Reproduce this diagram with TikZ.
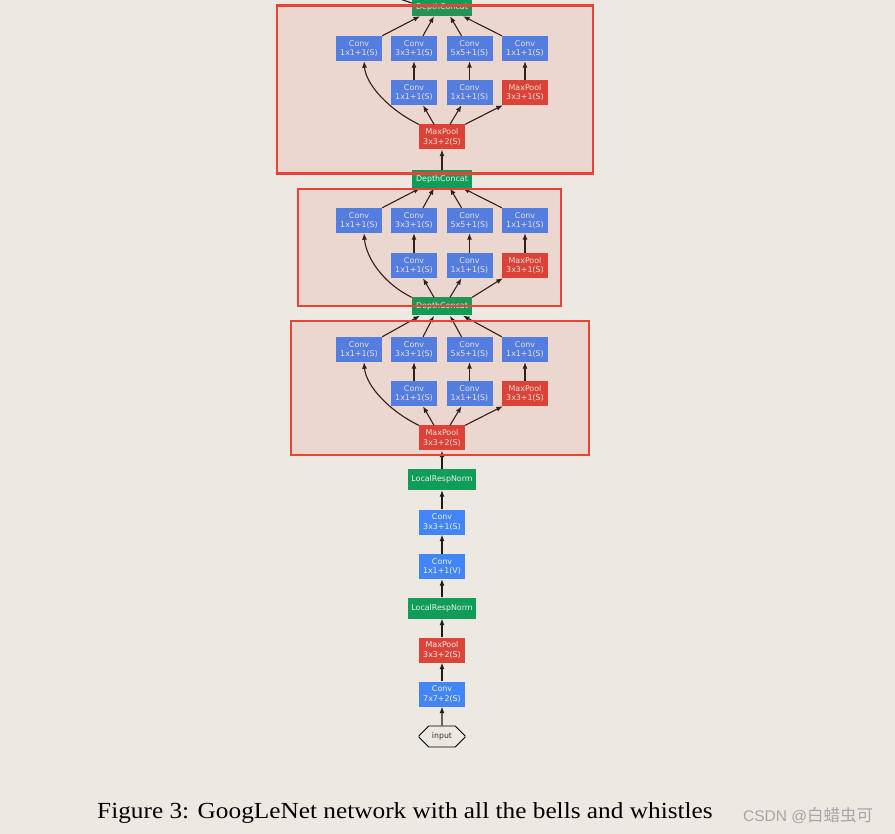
\documentclass[tikz,border=0pt]{standalone}
\usepackage{fontspec}
\setmainfont{Liberation Serif}
\newfontfamily\labelfont{DejaVu Sans}
\newfontfamily\markfont{Liberation Sans}
\newfontfamily\cjkfont{Noto Sans CJK SC}
\usetikzlibrary{arrows.meta,calc,shapes.misc}

\definecolor{pagebg}{HTML}{EDE8E1}
\definecolor{convblue}{HTML}{4285F4}
\definecolor{poolred}{HTML}{DB4437}
\definecolor{catgreen}{HTML}{0F9D58}
\definecolor{labeltext}{HTML}{EEEEF2}
\definecolor{edgecol}{HTML}{1E1A1A}
\definecolor{hlred}{HTML}{EA4335}
\definecolor{markgrey}{HTML}{A6A6A6}

\tikzset{
  layer/.style={inner sep=0pt, align=center, text=labeltext,
    font=\labelfont\fontsize{7.9}{9.8}\selectfont},
  convbox/.style={layer, fill=convblue, minimum width=46pt, minimum height=25pt},
  poolbox/.style={layer, fill=poolred, minimum width=46pt, minimum height=25pt},
  catbox/.style={layer, fill=catgreen, minimum width=60pt, minimum height=18pt},
  lrnbox/.style={layer, fill=catgreen, minimum width=68pt, minimum height=21pt},
  inbox/.style={chamfered rectangle, chamfered rectangle xsep=8pt,
    chamfered rectangle ysep=6pt, draw=black, line width=0.9pt,
    minimum width=46pt, minimum height=21pt, inner sep=0pt,
    font=\labelfont\fontsize{7.8}{9.7}\selectfont, text=black!80},
  arr/.style={draw=edgecol, line width=1.1pt, -{Latex[length=6.5pt,width=5pt]}},
  plainedge/.style={draw=edgecol, line width=1.1pt},
  hlbox/.style={draw=hlred, line width=2.6pt, fill=hlred, fill opacity=0.1},
}

% one inception module: four outputs on top, three reducers below
\newcommand{\incnodes}[3]{%
  \node[convbox] (#1t1) at (359,#2) {Conv\\1x1+1(S)};
  \node[convbox] (#1t2) at (414,#2) {Conv\\3x3+1(S)};
  \node[convbox] (#1t3) at (469.5,#2) {Conv\\5x5+1(S)};
  \node[convbox] (#1t4) at (525,#2) {Conv\\1x1+1(S)};
  \node[convbox] (#1m1) at (414,#3) {Conv\\1x1+1(S)};
  \node[convbox] (#1m2) at (469.5,#3) {Conv\\1x1+1(S)};
  \node[poolbox] (#1m3) at (525,#3) {MaxPool\\3x3+1(S)};
}
% edges of a module: #1 prefix, #2 input node, #3 output node
\newcommand{\incedges}[3]{%
  \draw[arr] (#2.north west) .. controls ($(#2.north west)+(-29,-14)$)
    and ($(#1t1.south)+(7,24)$) .. ($(#1t1.south)+(5,0)$);
  \draw[arr] ($(#2.north)+(-8,0)$) -- ($(#1m1.south)+(9,0)$);
  \draw[arr] ($(#2.north)+(8,0)$) -- ($(#1m2.south)+(-8,0)$);
  \draw[arr] (#2.north east) -- ($(#1m3.south west)+(1,0)$);
  \draw[arr] (#1m1) -- (#1t2);
  \draw[arr] (#1m2) -- (#1t3);
  \draw[arr] (#1m3) -- (#1t4);
  \draw[arr] (#1t1.north east) -- ($(#3.south)+(-22,0)$);
  \draw[arr] ($(#1t2.north)+(9,0)$) -- ($(#3.south)+(-8,0)$);
  \draw[arr] ($(#1t3.north)+(-8,0)$) -- ($(#3.south)+(8,0)$);
  \draw[arr] (#1t4.north west) -- ($(#3.south)+(21,0)$);
}

\begin{document}
\begin{tikzpicture}[x=1pt,y=-1pt]
\fill[pagebg] (0,0) rectangle (895,834);
\useasboundingbox (0,0) rectangle (895,834);

% stem
\node[inbox] (in) at (442,736.5) {input};
\node[convbox] (c7) at (442,694) {Conv\\7x7+2(S)};
\node[poolbox] (p1) at (442,650) {MaxPool\\3x3+2(S)};
\node[lrnbox] (n1) at (442,608) {LocalRespNorm};
\node[convbox] (c1v) at (442,566.5) {Conv\\1x1+1(V)};
\node[convbox] (c3) at (442,522) {Conv\\3x3+1(S)};
\node[lrnbox] (n2) at (442,479.5) {LocalRespNorm};

\draw[arr] (in) -- (c7);
\draw[arr] (c7) -- (p1);
\draw[arr] (p1) -- (n1);
\draw[arr] (n1) -- (c1v);
\draw[arr] (c1v) -- (c3);
\draw[arr] (c3) -- (n2);

% first inception module (with stride-2 pooling in front)
\node[poolbox] (cp) at (442,438) {MaxPool\\3x3+2(S)};
\incnodes{c}{349.5}{393.5}
\node[catbox] (dc) at (442,306.5) {DepthConcat};
\draw[arr] (n2) -- (cp);
\incedges{c}{cp}{dc}

% second inception module
\incnodes{b}{220.5}{265.5}
\node[catbox] (db) at (442,179) {DepthConcat};
\incedges{b}{dc}{db}

% third inception module
\node[poolbox] (ap) at (442,137) {MaxPool\\3x3+2(S)};
\incnodes{a}{48.5}{92.5}
\node[catbox] (da) at (442,7) {DepthConcat};
\draw[arr] (db) -- (ap);
\incedges{a}{ap}{da}
\coordinate (aout) at (394,-3);
\draw[plainedge] ($(da.west)+(0,-4)$) -- (aout);

% highlighted modules
\draw[hlbox] (277,5.5) rectangle (593,173.5);
\draw[hlbox] (298,189) rectangle (561,306);
\draw[hlbox] (291,321) rectangle (589,455);

% caption
\node[anchor=base west, inner sep=0pt] (cap) at (97,818)
  {\scalebox{1.1}[1]{\fontsize{23}{26}\selectfont Figure 3: GoogLeNet network with all the bells and whistles}};
\node[anchor=base west, inner sep=0pt, text=markgrey] (mark) at (743,821)
  {\markfont\fontsize{15.5}{17}\selectfont CSDN @\cjkfont\fontsize{16.5}{18}\selectfont 白蜡虫可};
\end{tikzpicture}
\end{document}
